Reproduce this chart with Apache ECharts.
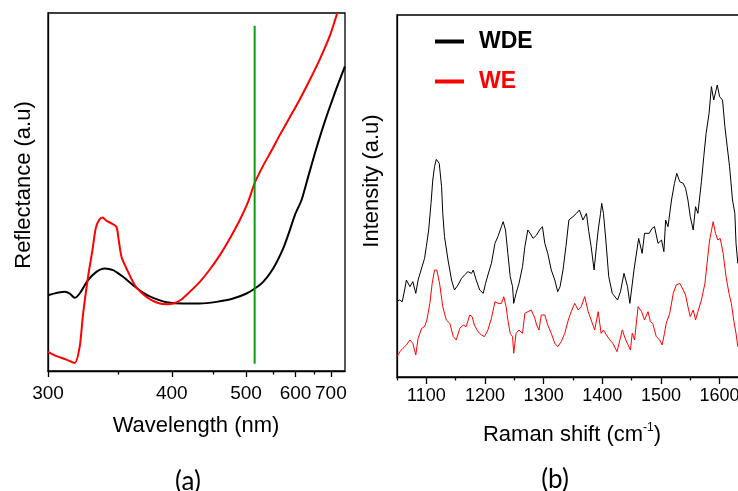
<!DOCTYPE html>
<html><head><meta charset="utf-8">
<script src="https://cdn.jsdelivr.net/npm/echarts@6/dist/echarts.min.js"></script>
<style>html,body{margin:0;padding:0;background:#fff}#c{width:738px;height:491px}</style>
</head><body><div id="c"></div>
<script>
// ---------- Panel (a): diffuse reflectance ----------
const wavelengthTicks = [300, 400, 500, 600, 700];
const wavelengthMinorTicks = [350, 450, 550, 650];
const wavelengthRange = [300, 750];
// [wavelength nm, reflectance a.u.]
const wdeReflectance = [[300,22.7],[310.5,23.7],[313.8,23.2],[317.1,21.9],[320.5,23.2],[326.4,27.2],[332.5,29.7],[338.8,30.7],[345.4,30.2],[353.6,28.2],[362.3,25.7],[371.4,23.4],[380.9,21.9],[394.4,20.6],[412.6,20.2],[432.7,20.2],[454.8,20.7],[479.3,21.7],[500.9,23.2],[515.3,24.7],[530.7,26.7],[550.4,30.7],[571.6,36.7],[586.6,42.2],[598.5,46.7],[615,51.2],[632.5,58.2],[651,65.2],[670.6,71.7],[691.4,77.7],[719.4,84.7],[749.6,91.2]];
const weReflectance = [[300,5.7],[304.1,4.7],[311.6,3.4],[317.1,2.4],[320.5,7.2],[322.9,17.2],[326.4,28.2],[329.6,36.2],[332,42.7],[334.5,45.2],[337.1,46.0],[340.2,45.0],[344.1,44.2],[348.1,43.2],[350,39.2],[352.3,34.2],[356.5,30.7],[363.8,25.7],[371.4,23.0],[379.3,21.2],[387.5,20.2],[394.4,20.0],[401.5,20.2],[410.7,21.4],[420.4,23.7],[432.7,26.7],[445.7,30.4],[459.5,34.7],[474.2,39.7],[489.8,45.2],[503.7,50.7],[515.3,56.4],[530.7,61.5],[547,66.0],[564.3,70.7],[586.6,76.0],[610.8,81.4],[637,87.2],[665.6,93.4],[696.8,100.4],[721.7,107.2]];
const markerWavelength = 515;
const markerSpan = [2.2, 103.4];
const reflectanceMax = 107.2;

// ---------- Panel (b): Raman ----------
const ramanTicks = [1100, 1200, 1300, 1400, 1500, 1600];
const ramanMinorTicks = [1050, 1150, 1250, 1350, 1450, 1550, 1650];
const ramanRange = [1050, 1660];
const intensityMax = 108.6;
// [Raman shift cm-1, intensity a.u.]
const wdeRaman = [[1050,22.6],[1054,23.1],[1059,22.6],[1063,26.1],[1066,29.1],[1072,27.1],[1077,28.6],[1082,25.1],[1086,29.1],[1091,32.1],[1097,35.6],[1100,39.1],[1104,44.1],[1108,52.1],[1111,59.1],[1114,63.1],[1117,65.3],[1122,64.1],[1126,57.1],[1128,49.1],[1131,42.1],[1137,35.1],[1143,29.1],[1148,26.1],[1154,27.6],[1160,29.6],[1165,30.6],[1171,31.6],[1177,31.1],[1180,32.1],[1185,29.1],[1191,26.1],[1197,25.1],[1201,28.1],[1205,30.6],[1211,34.1],[1217,40.1],[1222,42.1],[1228,45.1],[1231,46.6],[1235,44.1],[1239,37.1],[1243,30.1],[1247,27.1],[1249,22.1],[1253,25.1],[1258,28.1],[1264,33.1],[1268,39.1],[1273,44.1],[1277,43.1],[1282,41.6],[1288,42.6],[1293,44.1],[1298,45.1],[1302,40.1],[1307,37.1],[1313,32.1],[1319,29.1],[1324,25.6],[1328,27.1],[1333,32.1],[1338,39.1],[1343,47.1],[1350,48.1],[1356,49.1],[1361,50.1],[1367,47.1],[1373,49.1],[1377,43.6],[1381,39.1],[1386,32.1],[1390,39.1],[1393,44.1],[1397,49.1],[1399,52.1],[1402,49.1],[1406,41.1],[1411,30.1],[1417,25.1],[1426,23.1],[1431,25.6],[1437,31.1],[1443,27.1],[1447,22.1],[1454,32.1],[1462,41.6],[1468,37.1],[1472,43.1],[1480,43.1],[1485,44.6],[1489,45.1],[1495,40.1],[1501,41.1],[1505,37.6],[1508,47.1],[1512,45.1],[1518,53.1],[1523,58.1],[1527,61.1],[1532,58.6],[1538,58.1],[1542,56.6],[1546,53.1],[1550,48.1],[1555,44.1],[1559,51.1],[1563,49.1],[1569,58.6],[1573,66.1],[1577,73.1],[1582,79.1],[1586,87.1],[1590,83.1],[1596,87.6],[1600,84.1],[1605,83.1],[1609,75.1],[1613,69.1],[1617,63.1],[1622,53.1],[1626,49.1],[1628,40.1],[1631,34.1]];
const weRaman = [[1050,6.1],[1055,7.6],[1060,8.6],[1066,9.6],[1072,11.1],[1077,10.1],[1082,6.6],[1086,11.6],[1092,14.6],[1097,15.1],[1101,17.1],[1106,22.1],[1110,28.1],[1114,32.1],[1118,32.1],[1123,27.6],[1128,21.1],[1134,17.1],[1140,16.1],[1146,12.1],[1151,11.1],[1157,14.6],[1163,15.6],[1168,15.1],[1174,18.6],[1178,18.1],[1182,15.6],[1188,13.6],[1194,12.6],[1199,12.1],[1205,14.1],[1211,17.6],[1217,22.6],[1222,22.1],[1228,22.1],[1232,24.1],[1236,21.1],[1239,17.1],[1243,13.1],[1247,12.1],[1249,7.1],[1253,13.1],[1258,14.1],[1264,13.1],[1268,19.1],[1273,19.6],[1279,20.1],[1285,17.6],[1288,15.6],[1292,14.1],[1296,18.6],[1302,18.6],[1307,15.6],[1313,13.1],[1319,10.1],[1324,9.1],[1330,10.6],[1336,13.1],[1342,17.1],[1347,19.6],[1353,22.1],[1359,20.1],[1364,21.1],[1370,24.1],[1376,19.6],[1381,17.1],[1387,14.1],[1393,19.6],[1398,13.1],[1402,14.1],[1407,12.6],[1413,11.1],[1418,10.1],[1425,7.6],[1430,11.1],[1434,14.1],[1440,11.1],[1444,9.6],[1448,8.1],[1451,13.1],[1455,11.1],[1461,21.1],[1467,19.6],[1472,17.1],[1478,19.6],[1482,16.6],[1486,16.1],[1492,12.1],[1498,11.1],[1502,9.6],[1506,13.1],[1509,16.1],[1515,19.1],[1521,25.1],[1526,27.6],[1532,28.1],[1538,26.1],[1542,24.6],[1546,21.1],[1550,18.1],[1555,20.1],[1559,17.1],[1563,19.6],[1569,23.1],[1575,28.1],[1578,33.1],[1583,41.1],[1589,46.6],[1593,43.1],[1597,41.1],[1601,41.6],[1606,37.1],[1611,30.1],[1616,25.1],[1620,22.1],[1624,17.1],[1628,13.1],[1631,9.1]];

// reciprocal (energy-like) wavelength scale
const inv = l => 1e4 / l;
const FONT = '"Liberation Sans", Arimo, Arial, sans-serif';

const chart = echarts.init(document.getElementById('c'), null, {renderer: 'canvas'});
const blankAxisY = (gi, max) => ({
  gridIndex: gi, type: 'value', min: 0, max: max,
  axisLine: {show: true, lineStyle: {color: '#000', width: 1.3}},
  axisTick: {show: false}, axisLabel: {show: false}, splitLine: {show: false}
});

chart.setOption({
  animation: false,
  backgroundColor: '#fff',
  grid: [
    {left: 48, top: 13, width: 297, height: 358, show: true, borderColor: '#000', borderWidth: 1.3,
     containLabel: false, outerBoundsMode: 'none'},
    {left: 397, top: 15, width: 357.8, height: 362, show: true, borderColor: '#000', borderWidth: 1.3,
     containLabel: false, outerBoundsMode: 'none'}
  ],
  xAxis: [
    {gridIndex: 0, type: 'value', position: 'bottom', inverse: true,
     min: inv(wavelengthRange[1]), max: inv(wavelengthRange[0]),
     axisLine: {lineStyle: {color: '#000', width: 1.3}}, splitLine: {show: false},
     axisTick: {customValues: wavelengthTicks.map(inv), length: 6, lineStyle: {color: '#000', width: 1.3}},
     axisLabel: {customValues: wavelengthTicks.map(inv), formatter: v => String(Math.round(1e4 / v)),
                 fontSize: 19, color: '#000', fontFamily: FONT, margin: 13}},
    {gridIndex: 0, type: 'value', position: 'bottom', inverse: true,
     min: inv(wavelengthRange[1]), max: inv(wavelengthRange[0]),
     axisLine: {show: false}, splitLine: {show: false}, axisLabel: {show: false},
     axisTick: {customValues: wavelengthMinorTicks.map(inv), length: 3.5, lineStyle: {color: '#000', width: 1.3}}},
    {gridIndex: 1, type: 'value', position: 'bottom', min: ramanRange[0], max: ramanRange[1],
     axisLine: {lineStyle: {color: '#000', width: 1.3}}, splitLine: {show: false},
     axisTick: {customValues: ramanTicks, length: 7, lineStyle: {color: '#000', width: 1.3}},
     axisLabel: {customValues: ramanTicks, formatter: v => String(v),
                 fontSize: 18, color: '#000', fontFamily: FONT, margin: 10}},
    {gridIndex: 1, type: 'value', position: 'bottom', min: ramanRange[0], max: ramanRange[1],
     axisLine: {show: false}, splitLine: {show: false}, axisLabel: {show: false},
     axisTick: {customValues: ramanMinorTicks, length: 3.5, lineStyle: {color: '#000', width: 1.3}}}
  ],
  yAxis: [blankAxisY(0, reflectanceMax), blankAxisY(1, intensityMax)],
  legend: {
    orient: 'vertical', left: 430, top: 25, itemWidth: 29, itemHeight: 4, itemGap: 17, icon: 'rect',
    data: [{name: 'WDE', textStyle: {color: '#000'}}, {name: 'WE', textStyle: {color: '#ff0000'}}],
    textStyle: {fontSize: 23, fontWeight: 'bold', fontFamily: FONT, padding: [0, 0, 0, 10]}
  },
  series: [
    {name: 'WDE reflectance', type: 'line', xAxisIndex: 0, yAxisIndex: 0, showSymbol: false, smooth: 0.25,
     color: '#000', lineStyle: {color: '#000', width: 2}, data: wdeReflectance.map(p => [inv(p[0]), p[1]])},
    {name: 'WE reflectance', type: 'line', xAxisIndex: 0, yAxisIndex: 0, showSymbol: false, smooth: 0.25,
     color: '#ff0000', lineStyle: {color: '#ff0000', width: 2}, data: weReflectance.map(p => [inv(p[0]), p[1]])},
    {name: 'marker', type: 'line', xAxisIndex: 0, yAxisIndex: 0, showSymbol: false,
     color: '#139a13', lineStyle: {color: '#139a13', width: 2},
     data: markerSpan.map(v => [inv(markerWavelength), v])},
    {name: 'WDE', type: 'line', xAxisIndex: 2, yAxisIndex: 1, showSymbol: false,
     color: '#000', lineStyle: {color: '#000', width: 1}, data: wdeRaman},
    {name: 'WE', type: 'line', xAxisIndex: 2, yAxisIndex: 1, showSymbol: false,
     color: '#ff0000', lineStyle: {color: '#ff0000', width: 1}, data: weRaman}
  ],
  graphic: [
    {type: 'text', x: 24, y: 185, rotation: Math.PI / 2,
     style: {text: 'Reflectance (a.u)', font: '22px ' + FONT, fill: '#000', align: 'center', verticalAlign: 'middle'}},
    {type: 'text', x: 372, y: 181, rotation: Math.PI / 2,
     style: {text: 'Intensity (a.u)', font: '22px ' + FONT, fill: '#000', align: 'center', verticalAlign: 'middle'}},
    {type: 'text', x: 196, y: 426,
     style: {text: 'Wavelength (nm)', font: '22px ' + FONT, fill: '#000', align: 'center', verticalAlign: 'middle'}},
    {type: 'text', x: 572, y: 435,
     style: {text: '{a|Raman shift (cm}{s|-1}{a|)}', fill: '#000', align: 'center', verticalAlign: 'middle',
             rich: {a: {fontSize: 22, fontFamily: FONT, fill: '#000', lineHeight: 26},
                    s: {fontSize: 12, fontFamily: FONT, fill: '#000', verticalAlign: 'top', lineHeight: 26}}}},
    {type: 'text', x: 188, y: 482,
     style: {text: '(a)', font: '26px Lato, "Open Sans", sans-serif', fill: '#000', align: 'center', verticalAlign: 'middle'}},
    {type: 'text', x: 555, y: 480,
     style: {text: '(b)', font: '26px Lato, "Open Sans", sans-serif', fill: '#000', align: 'center', verticalAlign: 'middle'}}
  ]
});
</script></body></html>
